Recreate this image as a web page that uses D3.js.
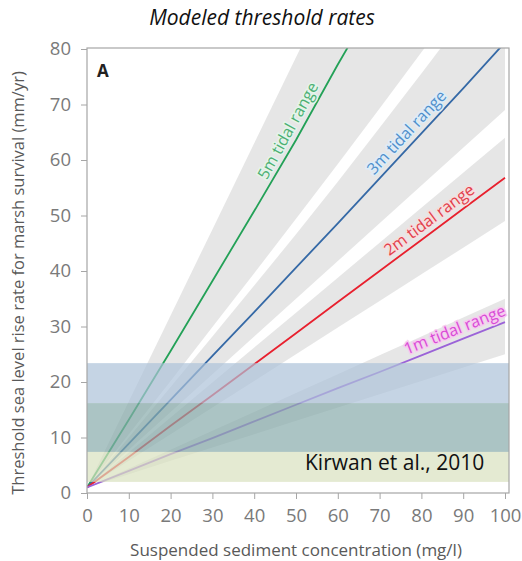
<!DOCTYPE html>
<html>
<head>
<meta charset="utf-8">
<script src="https://cdn.jsdelivr.net/npm/d3@7"></script>
<style>
    body { margin: 0; background: #fff; }
    text { font-family: "Open Sans", "DejaVu Sans", sans-serif; }
</style>
</head>
<body>
<script>
//suspended sediment concentration (mg/l)
var ssc = [0, 10, 20, 30, 40, 50, 60, 70, 80, 90, 100];

//threshold rates for each tidal range (mm/yr)
var line5m = [1, 13.2, 25.6, 38.2, 50.8, 63.6, 77.2, 90.2];
var line3m = [1, 8.9, 16.8, 24.7, 32.6, 40.6, 48.6, 56.7, 64.8, 72.9, 81.2];
var line2m = [1, 6.5, 12.1, 17.6, 23.2, 28.8, 34.4, 40.0, 45.6, 51.2, 56.8];
var line1m = [1, 4.0, 7.0, 9.9, 12.9, 15.9, 18.9, 21.8, 24.8, 27.8, 30.8];

//uncertainty envelopes
var low5m = [1, 10.6, 20.2, 29.9, 39.6, 49.4, 59.3, 69.3, 79.4, 89.5];
var high5m = [1, 16.5, 32, 47.5, 63, 78.5, 94];
var low3m = [1, 7.8, 14.6, 21.4, 28.2, 35.0, 41.8, 48.6, 55.4, 62.2, 69.0];
var high3m = [1, 10, 19.1, 28.2, 37.4, 46.6, 56.1, 65.8, 75.6, 85.5, 95.5];
var low2m = [1, 5.8, 10.6, 15.4, 20.2, 25.0, 29.8, 34.6, 39.4, 44.2, 49.0];
var high2m = [1, 7.3, 13.6, 19.9, 26.2, 32.5, 38.8, 45.1, 51.4, 57.7, 64.0];
var low1m = [1, 3.4, 5.8, 8.2, 10.6, 13.0, 15.4, 17.8, 20.2, 22.6, 25.0];
var high1m = [1, 4.4, 7.8, 11.2, 14.6, 18.0, 21.4, 24.8, 28.2, 31.6, 35.0];

//series names and where their labels sit (mg/l)
var seriesNames = ["5m tidal range", "3m tidal range", "2m tidal range", "1m tidal range"];
var labelAt = [50.5, 78.5, 83.5, 89];

//Kirwan et al. 2010 ranges (mm/yr)
var kirwanLow = [16.2, 7.4, 2.0];
var kirwanHigh = [23.4, 16.2, 7.4];

var xTicks = [0, 10, 20, 30, 40, 50, 60, 70, 80, 90, 100];
var yTicks = [0, 10, 20, 30, 40, 50, 60, 70, 80];

//svg dimensions
var width = 522,
    height = 561;

var svg = d3.select("body")
    .append("svg")
    .attr("width", width)
    .attr("height", height);

var x = d3.scaleLinear().domain([0, 100]).range([87, 505]);
var y = d3.scaleLinear().domain([0, 80]).range([493, 49]);

//plot frame edges
var fLeft = 87, fRight = 509, fTop = 48, fBottom = 493;

svg.append("clipPath")
    .attr("id", "plot")
    .append("rect")
    .attr("x", fLeft)
    .attr("y", fTop)
    .attr("width", fRight - fLeft)
    .attr("height", fBottom - fTop);

var plot = svg.append("g").attr("clip-path", "url(#plot)");

var lines = [line5m, line3m, line2m, line1m];
var lows = [low5m, low3m, low2m, low1m];
var highs = [high5m, high3m, high2m, high1m];
var lineColors = ["#23a157", "#3569a6", "#e8202e", "#9b63d8"];
var textColors = ["#4caf73", "#4f8fcb", "#e2404c", "#d94bd6"];
var haloColors = ["#e4f4ea", "#dcecf8", "#f6dede", "#f6ccf0"];

var xy = d3.line()
    .x(function(d){ return x(d[0]); })
    .y(function(d){ return y(d[1]); });

//gray envelopes
lows.forEach(function(lo, i){
    var upper = highs[i].map(function(v, j){ return [ssc[j], v]; });
    var lower = lo.map(function(v, j){ return [ssc[j], v]; });
    plot.append("path")
        .attr("d", xy(upper.concat(lower.reverse())) + "Z")
        .attr("fill", "#d9d9d9")
        .attr("fill-opacity", 0.65);
});

//threshold lines
lines.forEach(function(vals, i){
    plot.append("path")
        .attr("d", xy(vals.map(function(v, j){ return [ssc[j], v]; })))
        .attr("fill", "none")
        .attr("stroke", lineColors[i])
        .attr("stroke-width", 1.8);
});

//line labels, rotated along each line
lines.forEach(function(vals, i){
    var xv = labelAt[i];
    var j = Math.min(Math.floor(xv / 10), vals.length - 2);
    var t = (xv - ssc[j]) / 10;
    var yv = vals[j] + t * (vals[j + 1] - vals[j]);
    var angle = Math.atan2(y(vals[j + 1]) - y(vals[j]), x(ssc[j + 1]) - x(ssc[j])) * 180 / Math.PI;
    svg.append("text")
        .attr("transform", "translate(" + x(xv) + "," + y(yv) + ") rotate(" + angle + ")")
        .attr("y", -6)
        .attr("text-anchor", "middle")
        .attr("font-size", 16)
        .attr("fill", textColors[i])
        .attr("stroke", haloColors[i])
        .attr("stroke-width", 3)
        .attr("paint-order", "stroke")
        .text(seriesNames[i]);
});

//Kirwan bands on top
var bandColors = ["#acc2d8", "#88abab", "#d8e1bf"];
kirwanLow.forEach(function(lo, i){
    svg.append("rect")
        .attr("x", fLeft)
        .attr("width", fRight - fLeft)
        .attr("y", y(kirwanHigh[i]))
        .attr("height", y(lo) - y(kirwanHigh[i]))
        .attr("fill", bandColors[i])
        .attr("fill-opacity", 0.7);
});

svg.append("text")
    .attr("x", 305)
    .attr("y", 470)
    .attr("font-size", 21)
    .attr("fill", "#111")
    .text("Kirwan et al., 2010");

//frame
svg.append("rect")
    .attr("x", fLeft)
    .attr("y", fTop)
    .attr("width", fRight - fLeft)
    .attr("height", fBottom - fTop)
    .attr("fill", "none")
    .attr("stroke", "#a6a6a6")
    .attr("stroke-width", 1.2);

//axes
var xAxis = svg.append("g")
    .attr("transform", "translate(0," + fBottom + ")")
    .call(d3.axisBottom(x).tickValues(xTicks).tickSize(6).tickPadding(10));
var yAxis = svg.append("g")
    .attr("transform", "translate(" + fLeft + ",0)")
    .call(d3.axisLeft(y).tickValues(yTicks).tickSize(6).tickPadding(10));

[xAxis, yAxis].forEach(function(g){
    g.select(".domain").remove();
    g.selectAll("line").attr("stroke", "#a6a6a6");
    g.selectAll("text")
        .attr("font-size", 18.5)
        .attr("font-family", "Open Sans")
        .attr("fill", "#7a7a7a");
});

svg.append("text")
    .attr("x", 97)
    .attr("y", 77)
    .attr("font-size", 17)
    .attr("font-weight", "bold")
    .attr("font-family", "Liberation Sans")
    .attr("fill", "#222")
    .text("A");

//titles
svg.append("text")
    .attr("x", 262)
    .attr("y", 25)
    .attr("text-anchor", "middle")
    .attr("font-size", 21)
    .attr("font-style", "italic")
    .attr("fill", "#111")
    .text("Modeled threshold rates");

svg.append("text")
    .attr("x", 296)
    .attr("y", 556)
    .attr("text-anchor", "middle")
    .attr("font-size", 17)
    .attr("fill", "#595959")
    .text("Suspended sediment concentration (mg/l)");

svg.append("text")
    .attr("transform", "translate(24," + 283 + ") rotate(-90)")
    .attr("text-anchor", "middle")
    .attr("font-size", 16.5)
    .attr("fill", "#595959")
    .text("Threshold sea level rise rate for marsh survival (mm/yr)");
</script>
</body>
</html>
